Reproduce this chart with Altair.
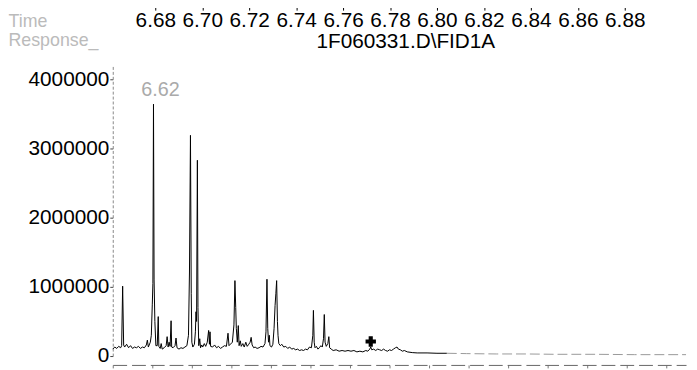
import altair as alt
import pandas as pd

# ---- chromatogram trace (retention time in min, detector response) ----
time_min = [
    6.6000, 6.6010, 6.6020, 6.6030, 6.6040, 6.6045, 6.6050, 6.6055, 6.6060, 6.6070,
    6.6080, 6.6090, 6.6100, 6.6110, 6.6120, 6.6130, 6.6140, 6.6150, 6.6160, 6.6170,
    6.6175, 6.6180, 6.6190, 6.6195, 6.6200, 6.6203, 6.6206, 6.6209, 6.6213, 6.6218,
    6.6225, 6.6230, 6.6233, 6.6240, 6.6245, 6.6250, 6.6260, 6.6270, 6.6275, 6.6280,
    6.6285, 6.6290, 6.6295, 6.6298, 6.6305, 6.6315, 6.6320, 6.6325, 6.6335, 6.6345,
    6.6355, 6.6365, 6.6375, 6.6383, 6.6388, 6.6393, 6.6397, 6.6400, 6.6405, 6.6413,
    6.6418, 6.6421, 6.6424, 6.6428, 6.6431, 6.6435, 6.6440, 6.6444, 6.6450, 6.6455,
    6.6463, 6.6470, 6.6478, 6.6485, 6.6489, 6.6492, 6.6495, 6.6505, 6.6515, 6.6525,
    6.6535, 6.6545, 6.6555, 6.6565, 6.6575, 6.6583, 6.6588, 6.6595, 6.6605, 6.6613,
    6.6618, 6.6622, 6.6625, 6.6630, 6.6635, 6.6639, 6.6645, 6.6650, 6.6658, 6.6665,
    6.6673, 6.6680, 6.6688, 6.6695, 6.6700, 6.6705, 6.6713, 6.6720, 6.6730, 6.6740,
    6.6750, 6.6760, 6.6770, 6.6775, 6.6780, 6.6784, 6.6788, 6.6792, 6.6795, 6.6803,
    6.6810, 6.6816, 6.6821, 6.6825, 6.6829, 6.6833, 6.6836, 6.6840, 6.6848, 6.6855,
    6.6865, 6.6875, 6.6885, 6.6895, 6.6905, 6.6915, 6.6925, 6.6935, 6.6945, 6.6955,
    6.6965, 6.6975, 6.6985, 6.6995, 6.7005, 6.7012, 6.7015, 6.7019, 6.7023, 6.7030,
    6.7038, 6.7045, 6.7053, 6.7060, 6.7066, 6.7070, 6.7074, 6.7080, 6.7088, 6.7093,
    6.7097, 6.7105, 6.7115, 6.7130, 6.7145, 6.7160, 6.7175, 6.7190, 6.7205, 6.7220,
    6.7235, 6.7250, 6.7265, 6.7280, 6.7290, 6.7300, 6.7305, 6.7310, 6.7320, 6.7330,
    6.7340, 6.7350, 6.7360, 6.7370, 6.7380, 6.7390, 6.7400, 6.7410, 6.7420, 6.7430,
    6.7438, 6.7445, 6.7455, 6.7465, 6.7475, 6.7490, 6.7515, 6.7540, 6.7590, 6.7640,
    6.7690,
]
response = [
    100000, 130000, 110000, 140000, 120000, 150000, 1010000, 160000, 130000, 170000,
    120000, 150000, 110000, 130000, 120000, 140000, 110000, 130000, 120000, 160000,
    230000, 130000, 200000, 300000, 750000, 1050000, 3640000, 1100000, 500000, 150000,
    150000, 570000, 140000, 110000, 180000, 100000, 120000, 150000, 280000, 130000,
    200000, 140000, 510000, 130000, 120000, 150000, 260000, 120000, 100000, 120000,
    110000, 130000, 150000, 300000, 1200000, 3190000, 900000, 200000, 130000, 170000,
    350000, 640000, 500000, 2830000, 700000, 150000, 250000, 120000, 160000, 130000,
    180000, 140000, 200000, 370000, 170000, 350000, 140000, 130000, 160000, 120000,
    140000, 110000, 130000, 150000, 140000, 330000, 150000, 170000, 200000, 450000,
    1090000, 700000, 400000, 200000, 440000, 150000, 220000, 140000, 180000, 130000,
    200000, 140000, 170000, 200000, 270000, 160000, 120000, 130000, 110000, 120000,
    140000, 130000, 180000, 350000, 1110000, 400000, 200000, 300000, 150000, 130000,
    170000, 400000, 730000, 900000, 1090000, 500000, 300000, 180000, 150000, 170000,
    130000, 140000, 110000, 130000, 100000, 110000, 90000, 100000, 80000, 90000,
    80000, 100000, 90000, 130000, 120000, 300000, 660000, 200000, 120000, 140000,
    100000, 120000, 150000, 130000, 250000, 600000, 200000, 140000, 180000, 280000,
    120000, 100000, 80000, 90000, 70000, 80000, 70000, 80000, 70000, 80000,
    60000, 70000, 60000, 80000, 70000, 100000, 130000, 90000, 100000, 80000,
    100000, 90000, 80000, 100000, 80000, 70000, 90000, 80000, 100000, 120000,
    130000, 100000, 90000, 70000, 80000, 60000, 50000, 45000, 45000, 40000,
    40000,
]
# faded tail of the scan
tail_time = [6.7690, 6.7790, 6.7940, 6.8090, 6.8240, 6.8440, 6.8640, 6.8900]
tail_response = [40000, 35000, 30000, 30000, 25000, 25000, 20000, 20000]

# ---- axis ticks / labels ----
top_ticks = [6.68, 6.70, 6.72, 6.74, 6.76, 6.78, 6.80, 6.82, 6.84, 6.86, 6.88]
y_ticks = [0, 1000000, 2000000, 3000000, 4000000]

peak_time = [6.6206]
peak_resp = [3640000]
peak_text = ["6.62"]

marker_time = [6.7305]
marker_resp = [210000]

FONT = "Liberation Sans"

trace_df = pd.DataFrame({"t": time_min, "r": response})
tail_df = pd.DataFrame({"t": tail_time, "r": tail_response})
peak_df = pd.DataFrame({"t": peak_time, "r": peak_resp, "label": peak_text})
marker_df = pd.DataFrame({"t": marker_time, "r": marker_resp})
top_df = pd.DataFrame({"t": top_ticks})

xs = alt.Scale(domain=[6.600, 6.890], nice=False, zero=False)
ys = alt.Scale(domain=[0, 4200000], nice=False)

bottom_axis = alt.Axis(
    orient="bottom", offset=9, labels=False, ticks=True, tickSize=3,
    tickColor="#777777", domainColor="#666666", domainDash=[14, 5],
    grid=False, tickCount=10,
    title="Time", titleX=-106, titleY=-347, titleAlign="left",
    titleBaseline="middle", titleColor="#bbbbbb", titleFontSize=18,
    titleFontWeight="normal", titleFont=FONT,
)
y_axis = alt.Axis(
    values=y_ticks, format="d", labelFontSize=21, labelFont=FONT,
    labelColor="black", labelPadding=1, tickSize=3, tickColor="#444444",
    domainColor="#888888", domainDash=[3, 2], grid=False,
    title="Response_", titleAngle=0, titleX=-106, titleY=-25,
    titleAlign="left", titleBaseline="middle", titleColor="#bbbbbb",
    titleFontSize=18, titleFontWeight="normal", titleFont=FONT,
)

main_line = alt.Chart(trace_df).mark_line(color="black", strokeWidth=1).encode(
    x=alt.X("t:Q", scale=xs, axis=bottom_axis),
    y=alt.Y("r:Q", scale=ys, axis=y_axis),
)
tail_line = alt.Chart(tail_df).mark_line(
    color="#999999", strokeWidth=1, strokeDash=[10, 4]
).encode(x=alt.X("t:Q"), y=alt.Y("r:Q"))

peak_label = alt.Chart(peak_df).mark_text(
    color="#aaaaaa", fontSize=20, font=FONT, align="center",
    baseline="bottom", dx=7, dy=-4,
).encode(x=alt.X("t:Q"), y=alt.Y("r:Q"), text="label:N")

marker = alt.Chart(marker_df).mark_point(
    shape="cross", filled=True, color="black", size=110, opacity=1
).encode(x=alt.X("t:Q"), y=alt.Y("r:Q"))

inner = alt.layer(main_line, tail_line, peak_label, marker)

top_layer = alt.Chart(top_df).mark_point(opacity=0).encode(
    x=alt.X(
        "t:Q",
        scale=alt.Scale(domain=[6.66189, 6.90610], nice=False, zero=False),
        axis=alt.Axis(
            orient="bottom", offset=-354, values=top_ticks, format=".2f",
            labelFontSize=21, labelFont=FONT, labelColor="black",
            labelPadding=0, labelOverlap=False, labelFlush=False,
            tickSize=4, tickColor="black", domain=False, grid=False,
            title="1F060331.D\\FID1A", titleX=296, titleY=36,
            titleAlign="center", titleBaseline="middle", titleFontSize=21,
            titleFontWeight="normal", titleColor="black", titleFont=FONT,
        ),
    )
)

chart = (
    alt.layer(inner, top_layer)
    .resolve_scale(x="independent")
    .properties(
        width=580, height=294,
        autosize=alt.AutoSizeParams(type="none"),
        padding={"left": 106, "top": 56, "right": 3, "bottom": 12},
    )
    .configure_view(stroke=None)
    .configure_text(font=FONT)
)

chart.save("out.html", embed_options={"renderer": "svg", "actions": False})
